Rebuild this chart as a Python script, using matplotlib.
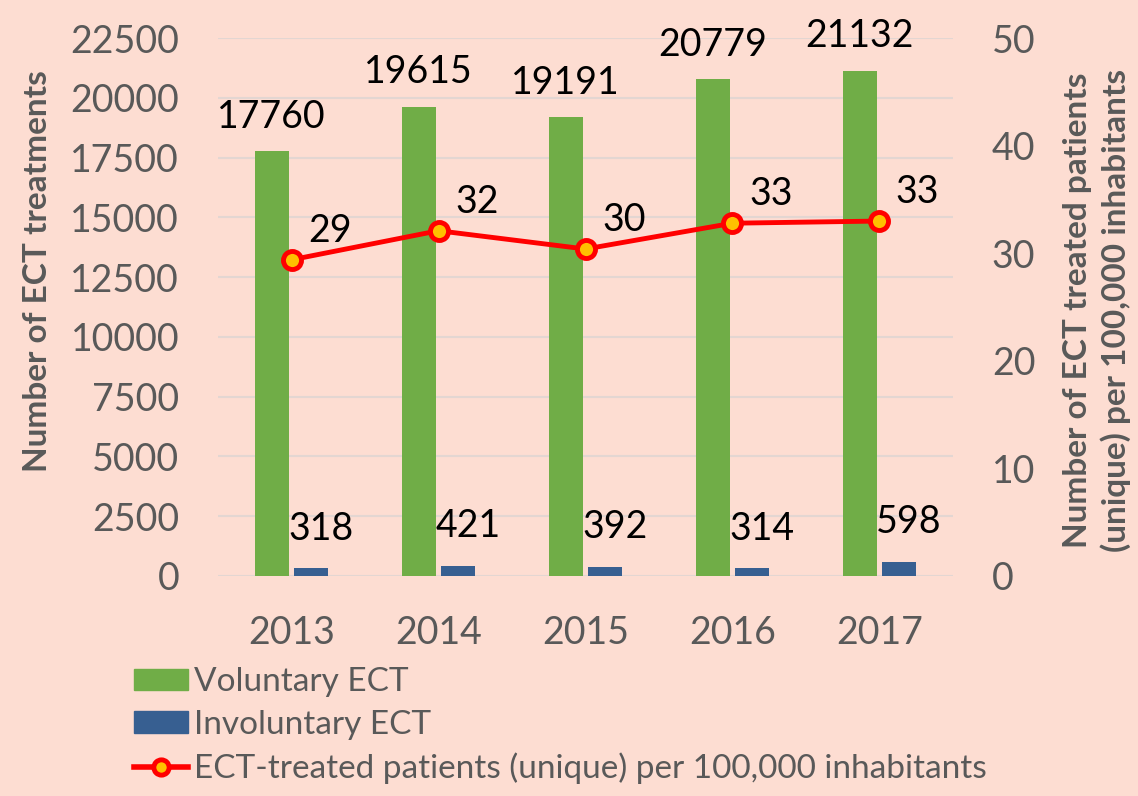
import numpy as np
import matplotlib.pyplot as plt
from matplotlib.lines import Line2D
from matplotlib.patches import Patch

years = ['2013', '2014', '2015', '2016', '2017']
voluntary = [17760, 19615, 19191, 20779, 21132]
involuntary = [318, 421, 392, 314, 598]
per100k = [29.4, 32.1, 30.4, 32.8, 33.0]
per100k_labels = ['29', '32', '30', '33', '33']

bg = '#FDDDD2'
grey = '#595959'
green = '#70AD47'
blue = '#375F91'

plt.rcParams['font.family'] = ['Lato', 'DejaVu Sans']

fig = plt.figure(figsize=(11.38, 7.96), dpi=100, facecolor=bg)
ax = fig.add_axes([0.1916, 0.2764, 0.6458, 0.6756], facecolor=bg)
ax2 = ax.twinx()

x = np.arange(len(years))
w = 0.23
ax.bar(x - 0.135, voluntary, w, color=green, zorder=2)
ax.bar(x + 0.135, involuntary, w, color=blue, zorder=2)

for xi, v in zip(x, voluntary):
    ax.text(xi - 0.135, v + 700, str(v), ha='center', va='bottom', fontsize=27, color='black')
for xi, v in zip(x, involuntary):
    ax.text(xi + 0.2, v + 900, str(v), ha='center', va='bottom', fontsize=27, color='black')

ax2.plot(x, per100k, color='red', lw=3.5, marker='o', ms=13, mfc='#FFC000',
         mec='red', mew=3.5, zorder=3)
for xi, v, t in zip(x, per100k, per100k_labels):
    ax2.text(xi + 0.26, v + 1.0, t, ha='center', va='bottom', fontsize=27, color='black')

ax.set_xlim(-0.5, 4.5)
ax.set_ylim(0, 22500)
ax.set_yticks(np.arange(0, 22501, 2500))
ax2.set_ylim(0, 50)
ax2.set_yticks(np.arange(0, 51, 10))
ax.set_xticks(x)
ax.set_xticklabels(years)

ax.grid(axis='y', color='#E3D6D2', lw=1.5, zorder=0)
ax.set_axisbelow(True)
for a in (ax, ax2):
    for s in a.spines.values():
        s.set_visible(False)
    a.tick_params(length=0, labelsize=27, colors=grey)
ax.tick_params(axis='y', pad=28)
ax.tick_params(axis='x', pad=28)
ax2.tick_params(axis='y', pad=28)

fig.text(0.033, 0.66, 'Number of ECT treatments', rotation=90, ha='center', va='center',
         fontsize=24, fontweight='bold', color=grey)
fig.text(0.964, 0.61, 'Number of ECT treated patients\n(unique) per 100,000 inhabitants',
         rotation=90, ha='center', va='center', fontsize=24, fontweight='bold',
         color=grey, linespacing=1.3)

handles = [Patch(color=green), Patch(color=blue),
           Line2D([0], [0], color='red', lw=4, marker='o', ms=11, mfc='#FFC000', mec='red', mew=3.5)]
labels = ['Voluntary ECT', 'Involuntary ECT', 'ECT-treated patients (unique) per 100,000 inhabitants']
fig.legend(handles, labels, loc='upper left', bbox_to_anchor=(0.118, 0.162), frameon=False,
           fontsize=24, labelcolor=grey, handlelength=1.6, handleheight=0.6,
           labelspacing=0.38, handletextpad=0.2, borderaxespad=0, borderpad=0)

fig.savefig('out.png', dpi=100, facecolor=bg)
